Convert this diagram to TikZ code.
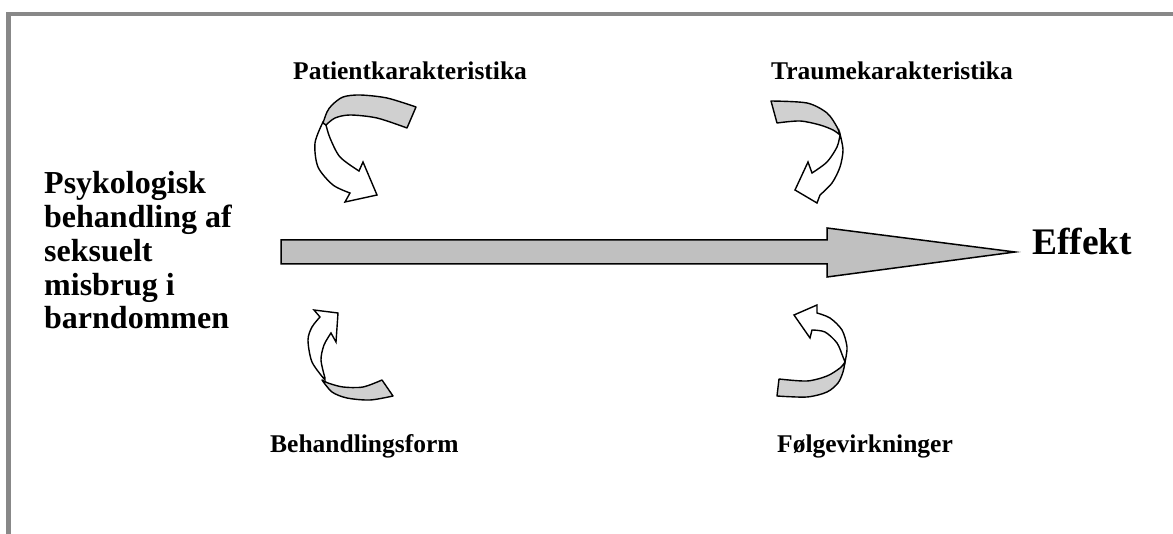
\documentclass[tikz,border=0pt]{standalone}
\usepackage{fontspec}
\setmainfont{Liberation Serif}
\definecolor{framegray}{RGB}{136,136,136}
\definecolor{ribbongray}{RGB}{208,208,208}
\definecolor{arrowgray}{RGB}{192,192,192}
\tikzset{
  frameline/.style={draw=framegray, line width=4.5pt},
  ribbonback/.style={draw=black, line width=1.4pt, fill=ribbongray, line join=round},
  ribbonfront/.style={draw=black, line width=1.4pt, fill=white, line join=miter},
  mainarrow/.style={draw=black, line width=1.5pt, fill=arrowgray, line join=miter},
  lbl/.style={font=\fontsize{25.5}{30}\selectfont\bfseries, inner sep=0pt},
}
\begin{document}
\begin{tikzpicture}[x=1pt,y=-1pt]
\useasboundingbox (0,0) rectangle (1173,534);
\fill[white] (0,0) rectangle (1173,534);
% frame
\draw[frameline] (8.5,534) -- (8.5,14) -- (1173,14);

% main arrow
\draw[mainarrow] (281,240) -- (827,240) -- (827,228) -- (1015,252) -- (827,277) -- (827,264) -- (281,264) -- cycle;

% texts
\node[lbl, anchor=north west, align=left, font=\fontsize{32}{33.75}\selectfont\bfseries] (src) at (44,171.5)
  {Psykologisk\\behandling af\\seksuelt\\misbrug i\\barndommen};
\node[lbl, anchor=base west, font=\fontsize{37.5}{40}\selectfont\bfseries] (eff) at (1032,255) {Effekt};
\node[lbl, anchor=base west] (pat) at (293,80) {Patientkarakteristika};
\node[lbl, anchor=base] (trau) at (892,80) {Traumekarakteristika};
\node[lbl, anchor=base west] (beh) at (270,453) {Behandlingsform};
\node[lbl, anchor=base] (folg) at (865,453) {Følgevirkninger};

% top-left curved arrow
\draw[ribbonfront] plot[smooth] coordinates {(323,122) (315,143) (318,167) (333,185) (350,193)}
  -- (345,202) -- (377,195) -- (363,162) -- (359,171)
  -- plot[smooth] coordinates {(359,171) (340,157) (330,138) (326,125)} -- cycle;
\draw[ribbonback] (416,107) -- (407,128)
  -- plot[smooth] coordinates {(407,128) (377,118) (350,115) (335,118) (326,125)}
  -- plot[smooth] coordinates {(323,123) (327,112) (332,105) (343,97) (360,95) (387,98) (416,107)} -- cycle;

% top-right curved arrow
\draw[ribbonfront] plot[smooth] coordinates {(840,134) (843,150) (840,167) (832,183) (820,195)}
  -- (817,203) -- (795,190) -- (808,162) -- (812,173)
  -- plot[smooth] coordinates {(812,173) (827,162) (837,147) (840,135)} -- cycle;
\draw[ribbonback] (771,101) -- (777,123)
  -- plot[smooth] coordinates {(777,123) (800,121) (820,125) (833,130) (840,135)}
  -- plot[smooth] coordinates {(840,135) (837,127) (827,113) (807,103) (771,101)} -- cycle;

% bottom-left curved arrow
\draw[ribbonfront] plot[smooth] coordinates {(325,380) (312,362) (308,340) (312,327) (320,317)}
  -- (314,310) -- (338,313) -- (336,342) -- (331,333)
  -- plot[smooth] coordinates {(331,333) (324,345) (321,360) (325,378)} -- cycle;
\draw[ribbonback] (382,380) -- (393,396)
  -- plot[smooth] coordinates {(393,396) (370,400) (347,398) (332,392) (322,380)}
  -- plot[smooth] coordinates {(322,380) (328,383) (343,387) (363,387) (382,380)} -- cycle;

% bottom-right curved arrow
\draw[ribbonfront] plot[smooth] coordinates {(845,362) (847,347) (842,330) (830,318) (817,313)}
  -- (817,305) -- (794,315) -- (810,338) -- (812,330)
  -- plot[smooth] coordinates {(812,330) (825,332) (837,343) (843,357) (845,362)} -- cycle;
\draw[ribbonback] (779,379) -- (777,396)
  -- plot[smooth] coordinates {(777,396) (807,397) (827,392) (838,383) (843,372) (845,362)}
  -- plot[smooth] coordinates {(845,362) (840,368) (827,376) (807,381) (779,379)} -- cycle;
\end{tikzpicture}
\end{document}
